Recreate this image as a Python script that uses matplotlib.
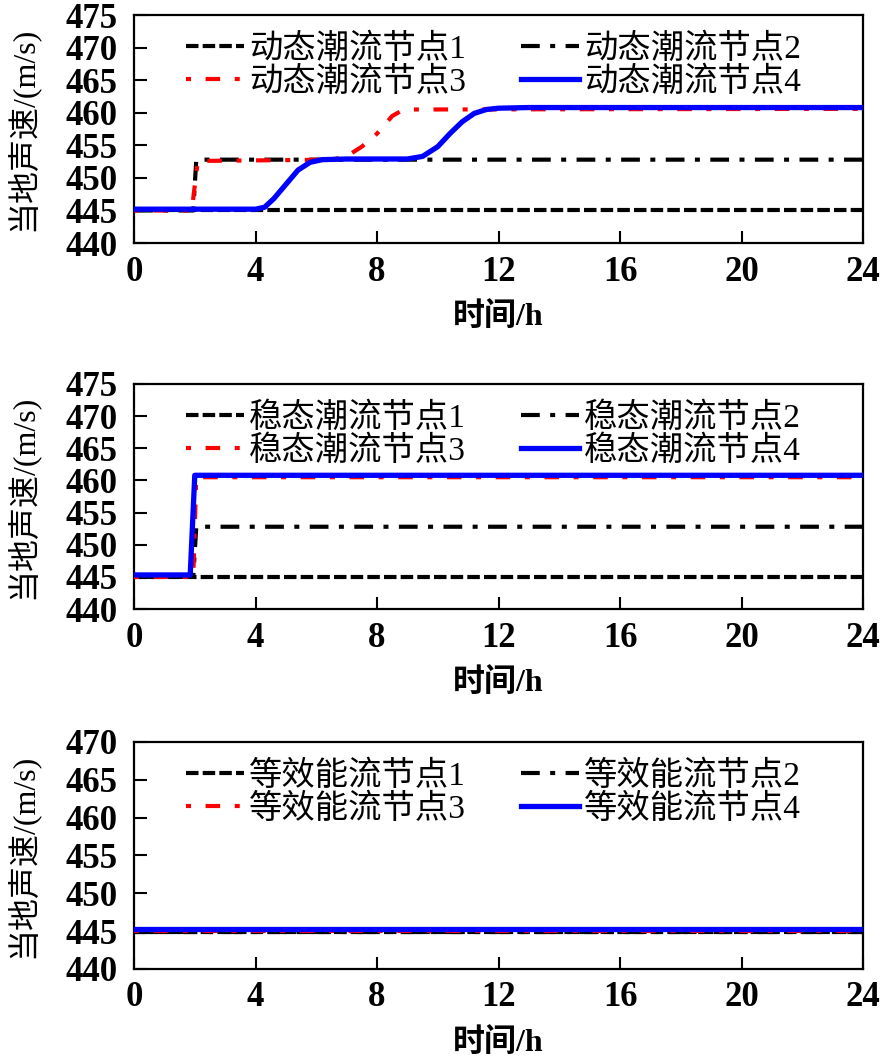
import matplotlib
matplotlib.use("Agg")
import matplotlib.pyplot as plt

plt.rcParams['font.family'] = ['Liberation Serif', 'Noto Sans CJK SC']

# ---------------- data ----------------
x_ticks = [0, 4, 8, 12, 16, 20, 24]

# dynamic power flow
dyn_t1 = [0, 24]
dyn_v1 = [445.0, 445.0]
dyn_t2 = [0, 1.95, 2.05, 24]
dyn_v2 = [445.0, 445.0, 452.8, 452.8]
dyn_t3 = [0, 1.9, 2.1, 6.5, 7.0, 7.5, 8.0, 8.5, 8.8, 9.2, 24]
dyn_v3 = [445.0, 445.0, 452.6, 452.8, 453.3, 454.8, 456.8, 459.5, 460.3, 460.5, 460.6]
dyn_t4 = [0, 4.0, 4.3, 4.6, 5.0, 5.4, 5.8, 6.2, 7.0, 9.0, 9.5, 10.0, 10.4, 10.8, 11.2, 11.6, 12.0, 13.0, 24]
dyn_v4 = [445.2, 445.2, 445.5, 446.8, 449.0, 451.2, 452.4, 452.8, 452.9, 452.9, 453.3, 454.8, 456.8, 458.6, 459.9, 460.5, 460.7, 460.8, 460.8]

# steady-state power flow
st_t1 = [0, 24]
st_v1 = [445.0, 445.0]
st_t2 = [0, 1.95, 2.05, 24]
st_v2 = [445.0, 445.0, 452.8, 452.8]
st_t3 = [0, 1.95, 2.05, 24]
st_v3 = [445.0, 445.0, 460.5, 460.5]
st_t4 = [0, 1.85, 2.0, 24]
st_v4 = [445.3, 445.3, 460.8, 460.8]

# equivalent energy flow
eq_t1 = [0, 24]
eq_v1 = [444.9, 444.9]
eq_t2 = [0, 24]
eq_v2 = [444.9, 444.9]
eq_t3 = [0, 24]
eq_v3 = [445.0, 445.0]
eq_t4 = [0, 24]
eq_v4 = [445.3, 445.3]

panels = [
    ("动态潮流", [(dyn_t1, dyn_v1), (dyn_t2, dyn_v2), (dyn_t3, dyn_v3), (dyn_t4, dyn_v4)],
     (440, 475), [440, 445, 450, 455, 460, 465, 470, 475]),
    ("稳态潮流", [(st_t1, st_v1), (st_t2, st_v2), (st_t3, st_v3), (st_t4, st_v4)],
     (440, 475), [440, 445, 450, 455, 460, 465, 470, 475]),
    ("等效能流", [(eq_t1, eq_v1), (eq_t2, eq_v2), (eq_t3, eq_v3), (eq_t4, eq_v4)],
     (440, 470), [440, 445, 450, 455, 460, 465, 470]),
]

styles = [
    dict(color='black', lw=3.0, dashes=(3.0, 1.0)),
    dict(color='black', lw=3.0, dashes=(4.5, 2.5, 1.2, 2.5)),
    dict(color='#ff0000', lw=3.0, dashes=(1.2, 3.5, 3.5, 3.5)),
    dict(color='#0000ff', lw=3.8, linestyle='-'),
]

fig = plt.figure(figsize=(8.84, 10.59), dpi=100)
boxes = [
    [0.1516, 0.7705, 0.8247, 0.2153],
    [0.1516, 0.4249, 0.8247, 0.2125],
    [0.1516, 0.0850, 0.8247, 0.2144],
]

tick_fs = 25
lab_fs = 23
leg_fs = 24
for (name, series, ylim, yticks), box in zip(panels, boxes):
    ax = fig.add_axes(box)
    lines = []
    for i, ((t, v), st) in enumerate(zip(series, styles)):
        ln, = ax.plot(t, v, label=f"{name}节点{i+1}", zorder=3 + (i == 3), **st)
        lines.append(ln)
    ax.set_xlim(0, 24)
    ax.set_ylim(*ylim)
    ax.set_xticks(x_ticks)
    ax.set_yticks(yticks)
    ax.tick_params(direction='in', length=9, width=1.5, labelsize=tick_fs, top=False, right=False)
    ax.tick_params(axis='x', pad=9)
    ax.tick_params(axis='y', pad=12)
    for lbl in ax.get_xticklabels() + ax.get_yticklabels():
        lbl.set_fontweight('bold')
    for sp in ax.spines.values():
        sp.set_linewidth(1.6)
    ax.set_xlabel("时间/h", fontsize=lab_fs, labelpad=10, fontweight='bold')
    ax.set_ylabel("当地声速/(m/s)", fontsize=lab_fs, labelpad=19)
    order = [0, 2, 1, 3]
    ax.legend([lines[k] for k in order], [lines[k].get_label() for k in order],
              loc='upper center', ncol=2, frameon=False, fontsize=leg_fs,
              handlelength=1.75, handletextpad=0.15, columnspacing=1.65,
              labelspacing=0.05, borderaxespad=0.15, bbox_to_anchor=(0.493, 1.0))

fig.savefig("out.png", dpi=100)
